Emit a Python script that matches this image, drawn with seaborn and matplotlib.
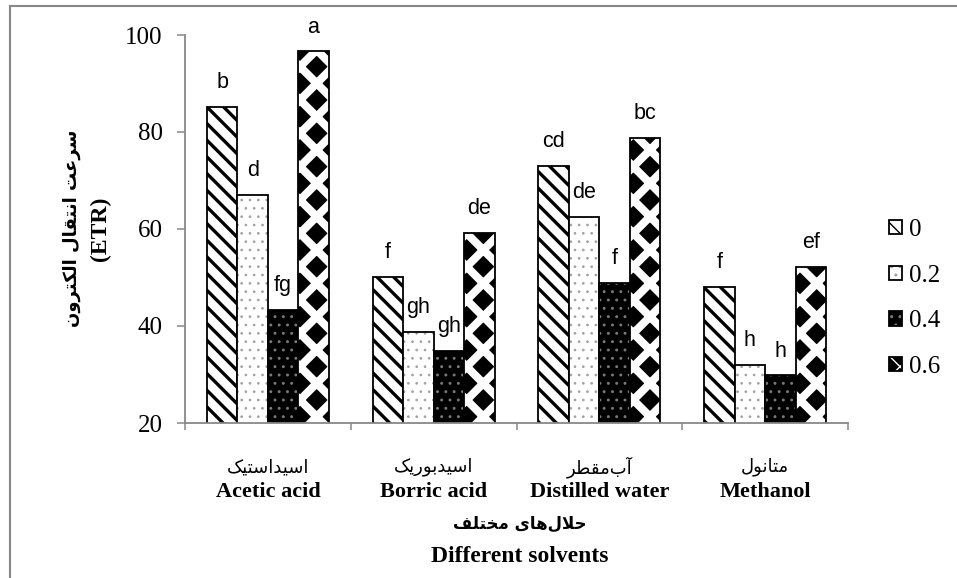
import matplotlib
matplotlib.use("Agg")
import matplotlib.pyplot as plt
import matplotlib.colors as mcolors
from matplotlib.lines import Line2D
from matplotlib import font_manager, ft2font
import seaborn as sns
import pandas as pd

# ---------------- data ----------------
solvents_en = ["Acetic acid", "Borric acid", "Distilled water", "Methanol"]
solvents_fa = ["اسیداستیک", "اسیدبوریک", "آب\u200cمقطر", "متانول"]
concentrations = ["0", "0.2", "0.4", "0.6"]
etr_0 = [85.1, 50.2, 73.0, 48.0]
etr_02 = [67.0, 38.7, 62.5, 32.0]
etr_04 = [43.3, 34.8, 48.8, 29.8]
etr_06 = [96.6, 59.2, 78.7, 52.2]
letters_0 = ["b", "f", "cd", "f"]
letters_02 = ["d", "gh", "de", "h"]
letters_04 = ["fg", "gh", "f", "h"]
letters_06 = ["a", "de", "bc", "ef"]
y_ticks = [20, 40, 60, 80, 100]
ylabel_fa = "سرعت انتقال الکترون"
ylabel_en = "(ETR)"
xlabel_fa = "حلال\u200cهای مختلف"
xlabel_en = "Different solvents"

# ---------------- minimal Persian shaping ----------------
FORMS = {
    'ا': ('\uFE8D', '\uFE8E', None, None),
    'آ': ('\uFE81', '\uFE82', None, None),
    'ب': ('\uFE8F', '\uFE90', '\uFE91', '\uFE92'),
    'ت': ('\uFE95', '\uFE96', '\uFE97', '\uFE98'),
    'ح': ('\uFEA1', '\uFEA2', '\uFEA3', '\uFEA4'),
    'خ': ('\uFEA5', '\uFEA6', '\uFEA7', '\uFEA8'),
    'د': ('\uFEA9', '\uFEAA', None, None),
    'ر': ('\uFEAD', '\uFEAE', None, None),
    'س': ('\uFEB1', '\uFEB2', '\uFEB3', '\uFEB4'),
    'ط': ('\uFEC1', '\uFEC2', '\uFEC3', '\uFEC4'),
    'ع': ('\uFEC9', '\uFECA', '\uFECB', '\uFECC'),
    'ف': ('\uFED1', '\uFED2', '\uFED3', '\uFED4'),
    'ق': ('\uFED5', '\uFED6', '\uFED7', '\uFED8'),
    'ک': ('\uFB8E', '\uFB8F', '\uFB90', '\uFB91'),
    'ل': ('\uFEDD', '\uFEDE', '\uFEDF', '\uFEE0'),
    'م': ('\uFEE1', '\uFEE2', '\uFEE3', '\uFEE4'),
    'ن': ('\uFEE5', '\uFEE6', '\uFEE7', '\uFEE8'),
    'و': ('\uFEED', '\uFEEE', None, None),
    'ه': ('\uFEE9', '\uFEEA', '\uFEEB', '\uFEEC'),
    'ی': ('\uFBFC', '\uFBFD', '\uFBFE', '\uFBFF'),
}
try:
    _f = ft2font.FT2Font(font_manager.findfont("DejaVu Sans"))
    def _has(c):
        return _f.get_char_index(ord(c)) != 0
    if not _has('\uFB8E'):
        FORMS['ک'] = ('\uFED9', '\uFEDA', '\uFEDB', '\uFEDC')
    if not _has('\uFBFC'):
        FORMS['ی'] = ('\uFEEF', '\uFEF0', '\uFEF3', '\uFEF4')
except Exception:
    pass
RIGHT_ONLY = set('اآدرو')


def jtype(c):
    if c in FORMS:
        return 'R' if c in RIGHT_ONLY else 'D'
    return 'U'


def fa(text):
    res = []
    n = len(text)
    i = 0
    while i < n:
        c = text[i]
        if c == '\u200c':
            i += 1
            continue
        if c not in FORMS:
            res.append(c)
            i += 1
            continue
        prev = text[i - 1] if i > 0 else None
        joins_prev = prev is not None and jtype(prev) == 'D'
        nxt = text[i + 1] if i + 1 < n else None
        if c == 'ل' and nxt in ('ا', 'آ'):
            lig = ('\uFEFB', '\uFEFC') if nxt == 'ا' else ('\uFEF5', '\uFEF6')
            res.append(lig[1] if joins_prev else lig[0])
            i += 2
            continue
        joins_next = jtype(c) == 'D' and nxt is not None and jtype(nxt) in ('D', 'R')
        f = FORMS[c]
        if joins_prev and joins_next:
            g = f[3]
        elif joins_prev:
            g = f[1]
        elif joins_next:
            g = f[2]
        else:
            g = f[0]
        res.append(g)
        i += 1
    return ''.join(reversed(res))


# ---------------- figure ----------------
W, H = 957, 578
fig = plt.figure(figsize=(W / 100, H / 100), dpi=100)
ax = fig.add_axes([185 / W, 1 - 423 / H, (848 - 185) / W, (423 - 35) / H])

df = pd.DataFrame({
    "solvent": solvents_en * 4,
    "conc": [c for c in concentrations for _ in solvents_en],
    "etr": etr_0 + etr_02 + etr_04 + etr_06,
})

sns.barplot(data=df, x="solvent", y="etr", hue="conc", order=solvents_en,
            hue_order=concentrations, palette=["white"] * 4, width=0.735,
            saturation=1, errorbar=None, legend=False, ax=ax,
            edgecolor="black", linewidth=1.3)

styles = [
    dict(face="white", hatch="\\\\", hcolor="black", hlw=2.4),
    dict(face="white", hatch="..", hcolor="#a0a0a0", hlw=0.7),
    dict(face="black", hatch="..", hcolor="#7a7a7a", hlw=0.9),
    dict(face="black", hatch="x", hcolor="white", hlw=5.8),
]


def style_patch(p, st):
    p.set_facecolor(st["face"])
    p.set_edgecolor("black")
    p.set_linewidth(1.3)
    p.set_hatch(st["hatch"])
    if hasattr(p, "set_hatchcolor"):
        p.set_hatchcolor(st["hcolor"])
    else:
        p._hatch_color = mcolors.to_rgba(st["hcolor"])
    if hasattr(p, "set_hatch_linewidth"):
        p.set_hatch_linewidth(st["hlw"])
    else:
        p._hatch_linewidth = st["hlw"]


all_letters = [letters_0, letters_02, letters_04, letters_06]
for cont, st, lets in zip(ax.containers, styles, all_letters):
    for p in cont.patches:
        style_patch(p, st)
    ax.bar_label(cont, labels=lets, padding=10, fontsize=15.5,
                 family="Liberation Sans", color="black")

# axes styling
ax.set_ylim(20, 100)
ax.set_xlim(-0.5, len(solvents_en) - 0.5)
ax.set_yticks(y_ticks)
ax.set_yticklabels([str(v) for v in y_ticks], family="Liberation Serif", fontsize=18)
ax.set_xticks(range(len(solvents_en)))
ax.set_xticklabels([""] * len(solvents_en))
ax.set_xticks([i - 0.5 for i in range(len(solvents_en) + 1)], minor=True)
ax.tick_params(axis="x", which="major", length=0)
ax.tick_params(axis="x", which="minor", length=5, width=1.1, color="#888888", direction="out")
ax.tick_params(axis="y", length=6, width=1.1, color="#888888", pad=10, direction="out")
for s in ["top", "right"]:
    ax.spines[s].set_visible(False)
for s in ["left", "bottom"]:
    ax.spines[s].set_color("#888888")
    ax.spines[s].set_linewidth(1.3)
ax.set_xlabel("")
ax.set_ylabel("")
ax.set_facecolor("white")

xt = ax.get_xaxis_transform()
for i, (en, pf) in enumerate(zip(solvents_en, solvents_fa)):
    ax.text(i, -44 / 388, fa(pf), transform=xt, ha="center", va="center",
            family="DejaVu Sans", fontsize=13)
    ax.text(i, -69 / 388, en, transform=xt, ha="center", va="center",
            family="Liberation Serif", fontweight="bold", fontsize=16)

fig.text(520 / W, 1 - 524 / H, fa(xlabel_fa), ha="center", va="center",
         family="DejaVu Sans", fontweight="bold", fontsize=12)
fig.text(520 / W, 1 - 556 / H, xlabel_en, ha="center", va="center",
         family="Liberation Serif", fontweight="bold", fontsize=17)
fig.text(72 / W, 1 - 228 / H, fa(ylabel_fa), ha="center", va="center", rotation=90,
         family="DejaVu Sans", fontweight="bold", fontsize=13)
fig.text(100 / W, 1 - 229 / H, ylabel_en, ha="center", va="center", rotation=90,
         family="Liberation Serif", fontweight="bold", fontsize=17)

# legend
leg = ax.legend(ax.containers, concentrations, loc="upper left",
                bbox_to_anchor=(889 / W, 1 - 219 / H), bbox_transform=fig.transFigure,
                frameon=False, borderpad=0, borderaxespad=0, handlelength=0.5,
                handleheight=0.5, handletextpad=0.3, labelspacing=0.95,
                prop={"family": "Liberation Serif", "size": 18})

# outer frame (top and left edges visible)
fig.add_artist(Line2D([10 / W, 10 / W], [0, 1 - 6 / H], transform=fig.transFigure,
                      color="#888888", linewidth=1.5))
fig.add_artist(Line2D([10 / W, 1], [1 - 6 / H, 1 - 6 / H], transform=fig.transFigure,
                      color="#888888", linewidth=1.5))

fig.savefig("out.png", dpi=100, facecolor="white")
